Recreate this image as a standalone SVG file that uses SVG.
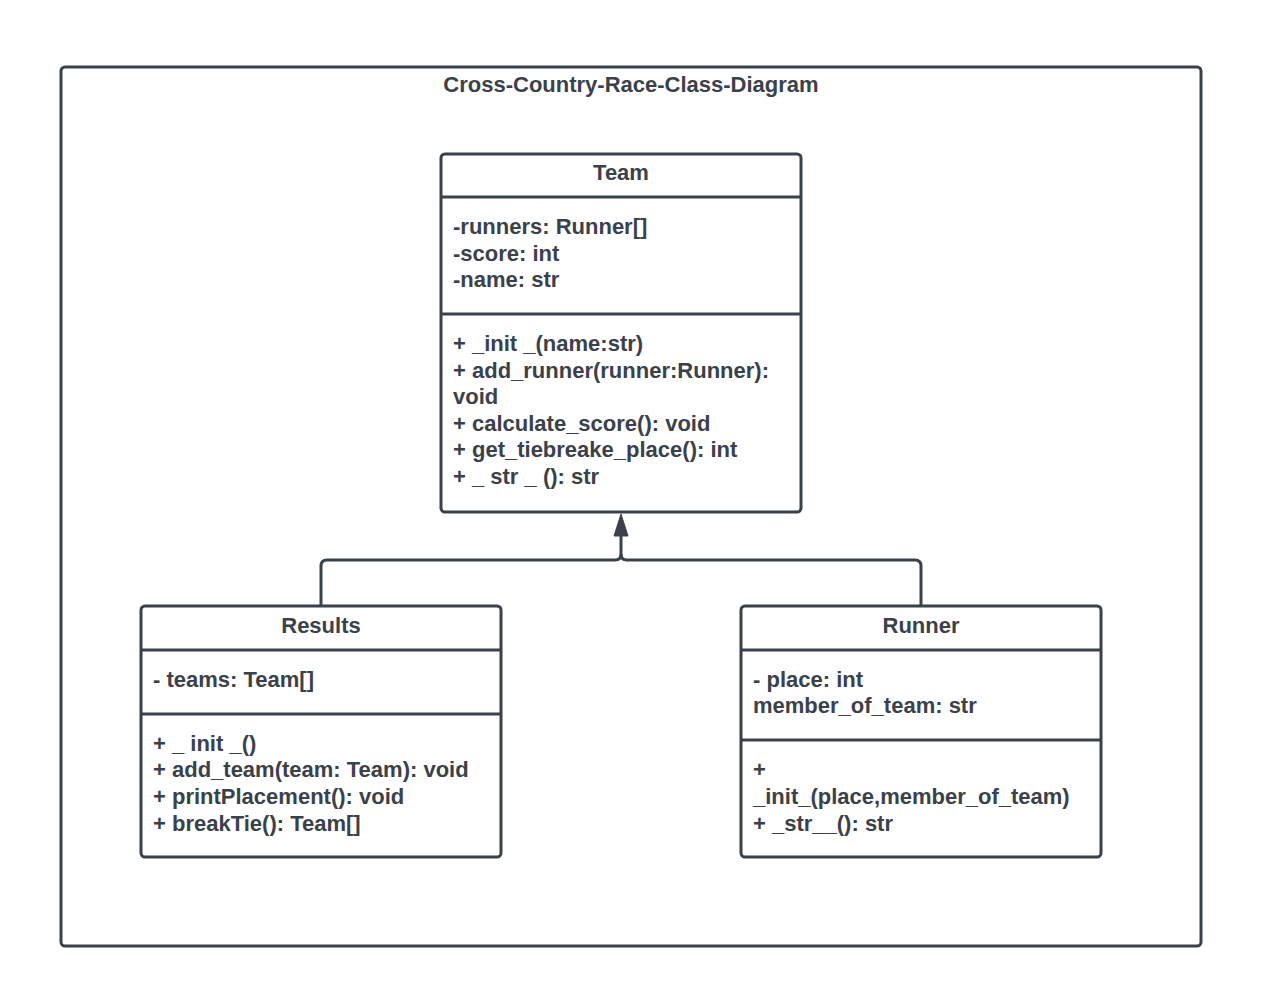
<svg xmlns="http://www.w3.org/2000/svg" width="1262" height="1001" viewBox="0 0 1262 1001">
<defs>
<style>
.box{fill:#ffffff;stroke:#3a414a;stroke-width:3}
.div{stroke:#3a414a;stroke-width:3}
.t{font-family:"Liberation Sans",Arial,sans-serif;font-weight:bold;font-size:22px;fill:#3a414a}
.h{text-anchor:middle}
.c{fill:none;stroke:#3a414a;stroke-width:3;stroke-linejoin:round}
</style>
</defs>
<rect width="1262" height="1001" fill="#ffffff"/>
<g id="frame">
<rect x="61" y="67" width="1140" height="879" rx="4" class="box"/>
<text x="631" y="92" class="t h">Cross-Country-Race-Class-Diagram</text>
</g>
<g id="connectors">
<path class="c" d="M321,606 V566 Q321,560 327,560 H615 Q621,560 621,554 V536"/>
<path class="c" d="M921,606 V566 Q921,560 915,560 H627 Q621,560 621,554"/>
<path d="M621,514 L614,536 L628,536 Z" fill="#3a414a" stroke="#3a414a" stroke-width="1" stroke-linejoin="round"/>
</g>
<g id="team">
<rect x="441" y="154" width="360" height="358" rx="4" class="box"/>
<line x1="441" y1="197" x2="801" y2="197" class="div"/>
<line x1="441" y1="314" x2="801" y2="314" class="div"/>
<text x="621" y="180" class="t h">Team</text>
<text x="453" y="234" class="t">-runners: Runner[]</text>
<text x="453" y="261" class="t">-score: int</text>
<text x="453" y="287" class="t">-name: str</text>
<text x="453" y="351" class="t">+ _init _(name:str)</text>
<text x="453" y="378" class="t">+ add_runner(runner:Runner):</text>
<text x="453" y="404" class="t">void</text>
<text x="453" y="431" class="t">+ calculate_score(): void</text>
<text x="453" y="457" class="t">+ get_tiebreake_place(): int</text>
<text x="453" y="484" class="t">+ _ str _ (): str</text>
</g>
<g id="results">
<rect x="141" y="606" width="360" height="251" rx="4" class="box"/>
<line x1="141" y1="650" x2="501" y2="650" class="div"/>
<line x1="141" y1="714" x2="501" y2="714" class="div"/>
<text x="321" y="633" class="t h">Results</text>
<text x="153" y="687" class="t">- teams: Team[]</text>
<text x="153" y="751" class="t">+ _ init _()</text>
<text x="153" y="777" class="t">+ add_team(team: Team): void</text>
<text x="153" y="804" class="t">+ printPlacement(): void</text>
<text x="153" y="831" class="t">+ breakTie(): Team[]</text>
</g>
<g id="runner">
<rect x="741" y="606" width="360" height="251" rx="4" class="box"/>
<line x1="741" y1="650" x2="1101" y2="650" class="div"/>
<line x1="741" y1="740" x2="1101" y2="740" class="div"/>
<text x="921" y="633" class="t h">Runner</text>
<text x="753" y="687" class="t">- place: int</text>
<text x="753" y="713" class="t">member_of_team: str</text>
<text x="753" y="777" class="t">+</text>
<text x="753" y="804" class="t">_init_(place,member_of_team)</text>
<text x="753" y="831" class="t">+ _str__(): str</text>
</g>
</svg>
